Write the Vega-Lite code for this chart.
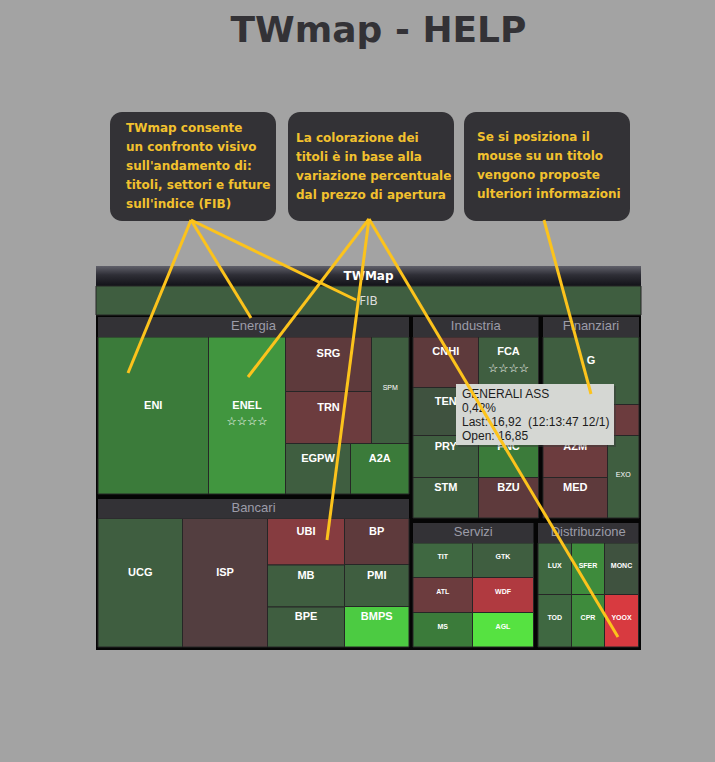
{
  "$schema": "https://vega.github.io/schema/vega-lite/v6.json",
  "width": 715,
  "height": 762,
  "autosize": {"type": "fit", "contains": "padding"},
  "padding": 0,
  "background": "#a3a3a3",
  "config": {"view": {"stroke": null}},
  "datasets": {
    "boxes": [
      {"id": 1, "x0": 110, "x1": 276, "y0": 112, "y1": 221, "text": "TWmap consente\nun confronto visivo\nsull'andamento di:\ntitoli, settori e future\nsull'indice (FIB)"},
      {"id": 2, "x0": 288, "x1": 454, "y0": 112, "y1": 221, "text": "La colorazione dei\ntitoli è in base alla\nvariazione percentuale\ndal prezzo di apertura"},
      {"id": 3, "x0": 464, "x1": 630, "y0": 112, "y1": 221, "text": "Se si posiziona il\nmouse su un titolo\nvengono proposte\nulteriori informazioni"}
    ],
    "header": [
      {"name": "TWMap", "x0": 96, "x1": 641, "y0": 266, "y1": 286}
    ],
    "frame": [
      {"x0": 96, "x1": 641, "y0": 315, "y1": 650}
    ],
    "sectors": [
      {"name": "Energia", "x0": 98, "x1": 409, "y0": 317, "y1": 337},
      {"name": "Bancari", "x0": 98, "x1": 409, "y0": 499, "y1": 518.5},
      {"name": "Industria", "x0": 413, "x1": 538.5, "y0": 317, "y1": 337},
      {"name": "Finanziari", "x0": 543, "x1": 639, "y0": 317, "y1": 337},
      {"name": "Servizi", "x0": 413, "x1": 533.5, "y0": 523, "y1": 543},
      {"name": "Distribuzione", "x0": 538, "x1": 638.5, "y0": 523, "y1": 543}
    ],
    "cells": [
      {"name": "FIB", "sector": "FIB", "x0": 96, "x1": 641, "y0": 286, "y1": 315, "chg": 0.2},
      {"name": "ENI", "sector": "Energia", "x0": 98, "x1": 208.5, "y0": 337, "y1": 494, "chg": 0.9},
      {"name": "ENEL", "sector": "Energia", "x0": 208.5, "x1": 285.5, "y0": 337, "y1": 494, "chg": 1.5, "stars": "☆☆☆☆"},
      {"name": "SRG", "sector": "Energia", "x0": 285.5, "x1": 371.5, "y0": 337, "y1": 391.5, "chg": -0.6},
      {"name": "TRN", "sector": "Energia", "x0": 285.5, "x1": 371.5, "y0": 391.5, "y1": 443.5, "chg": -1.0},
      {"name": "SPM", "sector": "Energia", "x0": 371.5, "x1": 409, "y0": 337, "y1": 443.5, "chg": 0.2},
      {"name": "EGPW", "sector": "Energia", "x0": 285.5, "x1": 350.5, "y0": 443.5, "y1": 494, "chg": 0.2},
      {"name": "A2A", "sector": "Energia", "x0": 350.5, "x1": 409, "y0": 443.5, "y1": 494, "chg": 0.9},
      {"name": "UCG", "sector": "Bancari", "x0": 98, "x1": 182.5, "y0": 518.5, "y1": 647, "chg": 0.2},
      {"name": "ISP", "sector": "Bancari", "x0": 182.5, "x1": 267.5, "y0": 518.5, "y1": 647, "chg": -0.3},
      {"name": "UBI", "sector": "Bancari", "x0": 267.5, "x1": 344.5, "y0": 518.5, "y1": 565, "chg": -1.8},
      {"name": "MB", "sector": "Bancari", "x0": 267.5, "x1": 344.5, "y0": 565, "y1": 607, "chg": 0.2},
      {"name": "BPE", "sector": "Bancari", "x0": 267.5, "x1": 344.5, "y0": 607, "y1": 647, "chg": 0.2},
      {"name": "BP", "sector": "Bancari", "x0": 344.5, "x1": 409, "y0": 518.5, "y1": 564.5, "chg": -0.6},
      {"name": "PMI", "sector": "Bancari", "x0": 344.5, "x1": 409, "y0": 564.5, "y1": 606.5, "chg": 0.2},
      {"name": "BMPS", "sector": "Bancari", "x0": 344.5, "x1": 409, "y0": 606.5, "y1": 647, "chg": 3.0},
      {"name": "CNHI", "sector": "Industria", "x0": 413, "x1": 478.5, "y0": 337, "y1": 387.5, "chg": -0.6},
      {"name": "FCA", "sector": "Industria", "x0": 478.5, "x1": 538.5, "y0": 337, "y1": 387.5, "chg": 0.2, "stars": "☆☆☆☆"},
      {"name": "TEN", "sector": "Industria", "x0": 413, "x1": 478.5, "y0": 387.5, "y1": 435.5, "chg": 0.0},
      {"name": "", "sector": "Industria", "x0": 478.5, "x1": 538.5, "y0": 387.5, "y1": 435.5, "chg": 0.2},
      {"name": "PRY", "sector": "Industria", "x0": 413, "x1": 478.5, "y0": 435.5, "y1": 477.5, "chg": 0.2},
      {"name": "FNC", "sector": "Industria", "x0": 478.5, "x1": 538.5, "y0": 435.5, "y1": 477.5, "chg": 0.9},
      {"name": "STM", "sector": "Industria", "x0": 413, "x1": 478.5, "y0": 477.5, "y1": 518, "chg": 0.2},
      {"name": "BZU", "sector": "Industria", "x0": 478.5, "x1": 538.5, "y0": 477.5, "y1": 518, "chg": -0.6},
      {"name": "G", "sector": "Finanziari", "x0": 543, "x1": 639, "y0": 337, "y1": 404.5, "chg": 0.2},
      {"name": "", "sector": "Finanziari", "x0": 543, "x1": 607, "y0": 404.5, "y1": 435.5, "chg": 0.2},
      {"name": "", "sector": "Finanziari", "x0": 607, "x1": 639, "y0": 404.5, "y1": 435.5, "chg": -1.0},
      {"name": "AZM", "sector": "Finanziari", "x0": 543, "x1": 607.5, "y0": 435.5, "y1": 477.5, "chg": -1.0},
      {"name": "MED", "sector": "Finanziari", "x0": 543, "x1": 607.5, "y0": 477.5, "y1": 518, "chg": -0.6},
      {"name": "EXO", "sector": "Finanziari", "x0": 607.5, "x1": 639, "y0": 435.5, "y1": 518, "chg": 0.2},
      {"name": "TIT", "sector": "Servizi", "x0": 413, "x1": 472.5, "y0": 543, "y1": 577.5, "chg": 0.5},
      {"name": "GTK", "sector": "Servizi", "x0": 472.5, "x1": 533.5, "y0": 543, "y1": 577.5, "chg": 0.2},
      {"name": "ATL", "sector": "Servizi", "x0": 413, "x1": 472.5, "y0": 577.5, "y1": 612.5, "chg": -1.1},
      {"name": "WDF", "sector": "Servizi", "x0": 472.5, "x1": 533.5, "y0": 577.5, "y1": 612.5, "chg": -2.4},
      {"name": "MS", "sector": "Servizi", "x0": 413, "x1": 472.5, "y0": 612.5, "y1": 647, "chg": 0.9},
      {"name": "AGL", "sector": "Servizi", "x0": 472.5, "x1": 533.5, "y0": 612.5, "y1": 647, "chg": 3.6},
      {"name": "LUX", "sector": "Distribuzione", "x0": 538, "x1": 571.5, "y0": 543, "y1": 594.5, "chg": 0.5},
      {"name": "SFER", "sector": "Distribuzione", "x0": 571.5, "x1": 604.5, "y0": 543, "y1": 594.5, "chg": 1.2},
      {"name": "MONC", "sector": "Distribuzione", "x0": 604.5, "x1": 638.5, "y0": 543, "y1": 594.5, "chg": 0.0},
      {"name": "TOD", "sector": "Distribuzione", "x0": 538, "x1": 571.5, "y0": 594.5, "y1": 647, "chg": 0.5},
      {"name": "CPR", "sector": "Distribuzione", "x0": 571.5, "x1": 604.5, "y0": 594.5, "y1": 647, "chg": 1.2},
      {"name": "YOOX", "sector": "Distribuzione", "x0": 604.5, "x1": 638.5, "y0": 594.5, "y1": 647, "chg": -3.2}
    ],
    "tip": [
      {"x0": 456, "x1": 614, "y0": 384, "y1": 445, "text": "GENERALI ASS\n0,42%\nLast: 16,92\u00a0 (12:13:47 12/1)\nOpen: 16,85"}
    ],
    "links": [
      {"x0": 191, "y0": 220, "x1": 128, "y1": 373},
      {"x0": 191, "y0": 220, "x1": 251, "y1": 318},
      {"x0": 191, "y0": 220, "x1": 356, "y1": 300},
      {"x0": 369, "y0": 219, "x1": 248, "y1": 377},
      {"x0": 369, "y0": 219, "x1": 327, "y1": 540},
      {"x0": 369, "y0": 219, "x1": 618, "y1": 637},
      {"x0": 544, "y0": 220, "x1": 591, "y1": 394}
    ]
  },
  "layer": [
    {
      "data": {"name": "boxes"},
      "mark": {"type": "rect", "fill": "#333236", "cornerRadius": 12},
      "encoding": {
        "x": {"field": "x0", "type": "quantitative", "scale": {"domain": [0, 715], "nice": false, "zero": false}, "axis": null},
        "x2": {"field": "x1"},
        "y": {"field": "y0", "type": "quantitative", "scale": {"domain": [0, 762], "nice": false, "zero": false, "reverse": true}, "axis": null},
        "y2": {"field": "y1"}
      }
    },
    {
      "data": {"name": "boxes"},
      "transform": [{"filter": "datum.id == 1"}],
      "mark": {"type": "text", "align": "left", "baseline": "middle", "dx": 16, "dy": 16, "font": "DejaVu Sans", "fontWeight": "bold", "fontSize": 12, "lineHeight": 19, "lineBreak": "\n", "color": "#f2c12e"},
      "encoding": {
        "x": {"field": "x0", "type": "quantitative", "scale": {"domain": [0, 715], "nice": false, "zero": false}, "axis": null},
        "y": {"field": "y0", "type": "quantitative", "scale": {"domain": [0, 762], "nice": false, "zero": false, "reverse": true}, "axis": null},
        "text": {"field": "text"}
      }
    },
    {
      "data": {"name": "boxes"},
      "transform": [{"filter": "datum.id == 2"}],
      "mark": {"type": "text", "align": "left", "baseline": "middle", "dx": 8, "dy": 26, "font": "DejaVu Sans", "fontWeight": "bold", "fontSize": 12, "lineHeight": 19, "lineBreak": "\n", "color": "#f2c12e"},
      "encoding": {
        "x": {"field": "x0", "type": "quantitative", "scale": {"domain": [0, 715], "nice": false, "zero": false}, "axis": null},
        "y": {"field": "y0", "type": "quantitative", "scale": {"domain": [0, 762], "nice": false, "zero": false, "reverse": true}, "axis": null},
        "text": {"field": "text"}
      }
    },
    {
      "data": {"name": "boxes"},
      "transform": [{"filter": "datum.id == 3"}],
      "mark": {"type": "text", "align": "left", "baseline": "middle", "dx": 13, "dy": 25, "font": "DejaVu Sans", "fontWeight": "bold", "fontSize": 12, "lineHeight": 19, "lineBreak": "\n", "color": "#f2c12e"},
      "encoding": {
        "x": {"field": "x0", "type": "quantitative", "scale": {"domain": [0, 715], "nice": false, "zero": false}, "axis": null},
        "y": {"field": "y0", "type": "quantitative", "scale": {"domain": [0, 762], "nice": false, "zero": false, "reverse": true}, "axis": null},
        "text": {"field": "text"}
      }
    },
    {
      "data": {"values": [{"label": "TWmap - HELP", "x": 378.5, "y": 42}]},
      "mark": {"type": "text", "align": "center", "baseline": "alphabetic", "font": "DejaVu Sans", "fontWeight": "bold", "fontSize": 36, "color": "#333236"},
      "encoding": {
        "x": {"field": "x", "type": "quantitative", "scale": {"domain": [0, 715], "nice": false, "zero": false}, "axis": null},
        "y": {"field": "y", "type": "quantitative", "scale": {"domain": [0, 762], "nice": false, "zero": false, "reverse": true}, "axis": null},
        "text": {"field": "label"}
      }
    },
    {
      "data": {"name": "header"},
      "mark": {"type": "rect", "fill": {"gradient": "linear", "x1": 0, "y1": 0, "x2": 0, "y2": 1, "stops": [{"offset": 0, "color": "#60606a"}, {"offset": 0.45, "color": "#2e2e36"}, {"offset": 1, "color": "#121218"}]}},
      "encoding": {
        "x": {"field": "x0", "type": "quantitative", "scale": {"domain": [0, 715], "nice": false, "zero": false}, "axis": null},
        "x2": {"field": "x1"},
        "y": {"field": "y0", "type": "quantitative", "scale": {"domain": [0, 762], "nice": false, "zero": false, "reverse": true}, "axis": null},
        "y2": {"field": "y1"}
      }
    },
    {
      "data": {"name": "header"},
      "transform": [{"calculate": "(datum.x0 + datum.x1) / 2", "as": "cx"}, {"calculate": "(datum.y0 + datum.y1) / 2", "as": "cy"}],
      "mark": {"type": "text", "align": "center", "baseline": "middle", "font": "DejaVu Sans", "fontWeight": "bold", "fontSize": 12, "color": "#ffffff"},
      "encoding": {
        "x": {"field": "cx", "type": "quantitative", "scale": {"domain": [0, 715], "nice": false, "zero": false}, "axis": null},
        "y": {"field": "cy", "type": "quantitative", "scale": {"domain": [0, 762], "nice": false, "zero": false, "reverse": true}, "axis": null},
        "text": {"field": "name"}
      }
    },
    {
      "data": {"name": "frame"},
      "mark": {"type": "rect", "fill": "#050505"},
      "encoding": {
        "x": {"field": "x0", "type": "quantitative", "scale": {"domain": [0, 715], "nice": false, "zero": false}, "axis": null},
        "x2": {"field": "x1"},
        "y": {"field": "y0", "type": "quantitative", "scale": {"domain": [0, 762], "nice": false, "zero": false, "reverse": true}, "axis": null},
        "y2": {"field": "y1"}
      }
    },
    {
      "data": {"name": "cells"},
      "mark": {"type": "rect", "stroke": "#262626", "strokeWidth": 1},
      "encoding": {
        "x": {"field": "x0", "type": "quantitative", "scale": {"domain": [0, 715], "nice": false, "zero": false}, "axis": null},
        "x2": {"field": "x1"},
        "y": {"field": "y0", "type": "quantitative", "scale": {"domain": [0, 762], "nice": false, "zero": false, "reverse": true}, "axis": null},
        "y2": {"field": "y1"},
        "fill": {
          "field": "chg", "type": "quantitative", "legend": null,
          "scale": {
            "type": "threshold",
            "domain": [-2.8, -2.0, -1.4, -0.8, -0.45, -0.15, 0.1, 0.35, 0.7, 1.05, 1.35, 2.2, 3.3],
            "range": ["#d83a40", "#b03a40", "#863c40", "#6c3c3e", "#5e3a3c", "#533e40", "#3f523f", "#3f5e40", "#3f6841", "#3b7b3a", "#3e8b3c", "#41963f", "#4ccb42", "#56e241"]
          }
        }
      }
    },
    {
      "data": {"name": "sectors"},
      "mark": {"type": "rect", "fill": "#333236"},
      "encoding": {
        "x": {"field": "x0", "type": "quantitative", "scale": {"domain": [0, 715], "nice": false, "zero": false}, "axis": null},
        "x2": {"field": "x1"},
        "y": {"field": "y0", "type": "quantitative", "scale": {"domain": [0, 762], "nice": false, "zero": false, "reverse": true}, "axis": null},
        "y2": {"field": "y1"}
      }
    },
    {
      "data": {"name": "sectors"},
      "transform": [{"calculate": "(datum.x0 + datum.x1) / 2", "as": "cx"}, {"calculate": "(datum.y0 + datum.y1) / 2", "as": "cy"}],
      "mark": {"type": "text", "align": "center", "baseline": "middle", "dy": -1, "font": "Liberation Sans", "fontSize": 13, "color": "#9c9ca8"},
      "encoding": {
        "x": {"field": "cx", "type": "quantitative", "scale": {"domain": [0, 715], "nice": false, "zero": false}, "axis": null},
        "y": {"field": "cy", "type": "quantitative", "scale": {"domain": [0, 762], "nice": false, "zero": false, "reverse": true}, "axis": null},
        "text": {"field": "name"}
      }
    },
    {
      "data": {"name": "cells"},
      "transform": [
        {"filter": "indexof(['Energia','Bancari','Industria','Finanziari'], datum.sector) >= 0 && datum.name != 'SPM' && datum.name != 'EXO'"},
        {"calculate": "(datum.x0 + datum.x1) / 2", "as": "cx"},
        {"calculate": "(datum.y0 + datum.y1) / 2", "as": "cy"}
      ],
      "mark": {"type": "text", "align": "center", "baseline": "middle", "dy": -10, "font": "Liberation Sans", "fontWeight": "bold", "fontSize": 11, "color": "#ffffff"},
      "encoding": {
        "x": {"field": "cx", "type": "quantitative", "scale": {"domain": [0, 715], "nice": false, "zero": false}, "axis": null},
        "y": {"field": "cy", "type": "quantitative", "scale": {"domain": [0, 762], "nice": false, "zero": false, "reverse": true}, "axis": null},
        "text": {"field": "name"}
      }
    },
    {
      "data": {"name": "cells"},
      "transform": [
        {"filter": "datum.stars"},
        {"calculate": "(datum.x0 + datum.x1) / 2", "as": "cx"},
        {"calculate": "(datum.y0 + datum.y1) / 2", "as": "cy"}
      ],
      "mark": {"type": "text", "align": "center", "baseline": "middle", "dy": 6.5, "font": "DejaVu Sans", "fontSize": 11.5, "color": "#ffffff"},
      "encoding": {
        "x": {"field": "cx", "type": "quantitative", "scale": {"domain": [0, 715], "nice": false, "zero": false}, "axis": null},
        "y": {"field": "cy", "type": "quantitative", "scale": {"domain": [0, 762], "nice": false, "zero": false, "reverse": true}, "axis": null},
        "text": {"field": "stars"}
      }
    },
    {
      "data": {"name": "cells"},
      "transform": [
        {"filter": "datum.sector == 'Servizi' || datum.sector == 'Distribuzione'"},
        {"calculate": "(datum.x0 + datum.x1) / 2", "as": "cx"},
        {"calculate": "(datum.y0 + datum.y1) / 2", "as": "cy"}
      ],
      "mark": {"type": "text", "align": "center", "baseline": "middle", "dy": -3, "font": "Liberation Sans", "fontWeight": "bold", "fontSize": 7, "color": "#ffffff"},
      "encoding": {
        "x": {"field": "cx", "type": "quantitative", "scale": {"domain": [0, 715], "nice": false, "zero": false}, "axis": null},
        "y": {"field": "cy", "type": "quantitative", "scale": {"domain": [0, 762], "nice": false, "zero": false, "reverse": true}, "axis": null},
        "text": {"field": "name"}
      }
    },
    {
      "data": {"name": "cells"},
      "transform": [
        {"filter": "datum.name == 'SPM' || datum.name == 'EXO'"},
        {"calculate": "(datum.x0 + datum.x1) / 2", "as": "cx"},
        {"calculate": "(datum.y0 + datum.y1) / 2", "as": "cy"}
      ],
      "mark": {"type": "text", "align": "center", "baseline": "middle", "dy": -2, "font": "Liberation Sans", "fontSize": 7, "color": "#ffffff"},
      "encoding": {
        "x": {"field": "cx", "type": "quantitative", "scale": {"domain": [0, 715], "nice": false, "zero": false}, "axis": null},
        "y": {"field": "cy", "type": "quantitative", "scale": {"domain": [0, 762], "nice": false, "zero": false, "reverse": true}, "axis": null},
        "text": {"field": "name"}
      }
    },
    {
      "data": {"name": "cells"},
      "transform": [
        {"filter": "datum.sector == 'FIB'"},
        {"calculate": "(datum.x0 + datum.x1) / 2", "as": "cx"},
        {"calculate": "(datum.y0 + datum.y1) / 2", "as": "cy"}
      ],
      "mark": {"type": "text", "align": "center", "baseline": "middle", "font": "DejaVu Sans", "fontSize": 12, "color": "#dcdcdc"},
      "encoding": {
        "x": {"field": "cx", "type": "quantitative", "scale": {"domain": [0, 715], "nice": false, "zero": false}, "axis": null},
        "y": {"field": "cy", "type": "quantitative", "scale": {"domain": [0, 762], "nice": false, "zero": false, "reverse": true}, "axis": null},
        "text": {"field": "name"}
      }
    },
    {
      "data": {"name": "tip"},
      "mark": {"type": "rect", "fill": "#3a3a3a", "opacity": 0.45, "xOffset": 2, "x2Offset": 2, "yOffset": 2, "y2Offset": 2},
      "encoding": {
        "x": {"field": "x0", "type": "quantitative", "scale": {"domain": [0, 715], "nice": false, "zero": false}, "axis": null},
        "x2": {"field": "x1"},
        "y": {"field": "y0", "type": "quantitative", "scale": {"domain": [0, 762], "nice": false, "zero": false, "reverse": true}, "axis": null},
        "y2": {"field": "y1"}
      }
    },
    {
      "data": {"name": "tip"},
      "mark": {"type": "rect", "fill": "#d5d7d3"},
      "encoding": {
        "x": {"field": "x0", "type": "quantitative", "scale": {"domain": [0, 715], "nice": false, "zero": false}, "axis": null},
        "x2": {"field": "x1"},
        "y": {"field": "y0", "type": "quantitative", "scale": {"domain": [0, 762], "nice": false, "zero": false, "reverse": true}, "axis": null},
        "y2": {"field": "y1"}
      }
    },
    {
      "data": {"name": "tip"},
      "mark": {"type": "text", "align": "left", "baseline": "middle", "dx": 6, "dy": 9.5, "font": "Liberation Sans", "fontSize": 12, "lineHeight": 14, "lineBreak": "\n", "color": "#1c1c1c"},
      "encoding": {
        "x": {"field": "x0", "type": "quantitative", "scale": {"domain": [0, 715], "nice": false, "zero": false}, "axis": null},
        "y": {"field": "y0", "type": "quantitative", "scale": {"domain": [0, 762], "nice": false, "zero": false, "reverse": true}, "axis": null},
        "text": {"field": "text"}
      }
    },
    {
      "data": {"name": "links"},
      "mark": {"type": "rule", "color": "#fcc31c", "strokeWidth": 3},
      "encoding": {
        "x": {"field": "x0", "type": "quantitative", "scale": {"domain": [0, 715], "nice": false, "zero": false}, "axis": null},
        "x2": {"field": "x1"},
        "y": {"field": "y0", "type": "quantitative", "scale": {"domain": [0, 762], "nice": false, "zero": false, "reverse": true}, "axis": null},
        "y2": {"field": "y1"}
      }
    }
  ]
}
